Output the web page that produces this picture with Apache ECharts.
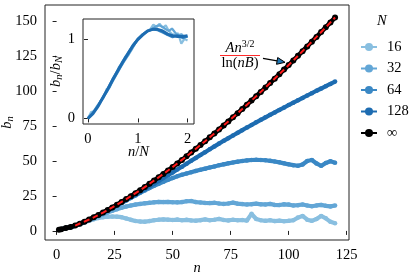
<!DOCTYPE html>
<html><head><meta charset="utf-8">
<script src="https://cdn.jsdelivr.net/npm/echarts@6/dist/echarts.min.js"></script>
<style>html,body{margin:0;padding:0;background:#fff}#wrap{position:relative;width:415px;height:277px}#c{position:absolute;left:0;top:0;width:415px;height:277px}#ins{position:absolute;left:0;top:0;width:415px;height:277px}</style>
</head><body><div id="wrap"><div id="c"></div><div id="ins"></div></div>
<script>
// ---- data ----
const nVals = [1,2,4,6,8,10,12,14,16,18,20,22,24,26,28,30,32,34,36,38,40,42,44,46,48,50,52,54,56,58,60,62,64,66,68,70,72,74,76,78,80,82,84,86,88,90,92,94,96,98,100,102,104,106,108,110,112,114,116,118,120];
const bInf = [0.9,1.2,2.0,2.8,3.83,5.16,6.58,8.10,9.70,11.37,13.11,14.91,16.78,18.71,20.69,22.73,24.82,26.95,29.14,31.37,33.65,35.97,38.34,40.75,43.19,45.67,48.20,50.76,53.36,55.99,58.66,61.36,64.10,66.87,69.67,72.51,75.38,78.27,81.20,84.16,87.14,90.17,93.21,96.29,99.39,102.51,105.68,108.86,112.07,115.32,118.57,121.87,125.17,128.51,131.87,135.27,138.68,142.11,145.58,149.06,152.57];
const b16 = [0.9,1.2,2.0,2.7,3.6,4.8,6.0,7.2,8.3,9.2,9.8,10.1,10.3,10.2,9.8,8.9,7.9,7.1,6.7,6.6,7.0,7.6,8.0,8.2,8.0,7.8,8.1,7.6,7.9,7.5,7.3,7.7,8.2,7.6,8.0,8.6,7.8,7.5,8.0,7.6,7.8,7.4,12.2,8.5,7.6,7.2,7.6,7.0,7.3,6.9,7.2,7.6,9.5,10.7,8.0,7.2,8.5,10.7,9.0,6.5,5.5];
const b32 = [0.9,1.2,2.0,2.8,3.7,5.0,6.3,7.7,9.1,10.5,11.9,13.2,14.4,15.5,16.5,17.4,18.2,18.8,19.3,19.7,20.1,20.4,20.7,20.6,20.7,20.5,20.4,20.6,21.2,21.4,20.6,20.3,20.0,19.9,20.1,19.6,19.3,19.6,20.2,19.5,19.2,18.9,19.1,19.5,19.0,18.9,19.3,18.6,18.5,19.0,18.8,18.2,18.4,18.9,18.2,17.6,18.2,18.6,17.9,17.5,18.2];
const b64 = [0.9,1.2,2.0,2.8,3.8,5.1,6.5,8.0,9.5,11.1,12.7,14.4,16.2,18.0,19.9,21.8,23.6,25.4,27.2,28.9,30.6,32.2,33.7,35.1,36.5,37.8,39.0,40.1,41.1,42.0,42.9,43.7,44.5,45.3,46.1,46.9,47.6,48.3,48.9,49.5,50.0,50.4,50.7,50.8,50.7,50.5,50.1,49.6,49.0,48.3,47.6,47.0,46.6,47.5,50.0,50.7,48.2,46.5,48.5,49.8,48.8];
const b128 = [0.9,1.2,2.0,2.8,3.8,5.15,6.55,8.05,9.6,11.25,12.95,14.7,16.5,18.4,20.3,22.0,24.0,25.9,27.8,29.8,31.8,33.8,35.8,37.8,39.8,41.8,43.9,45.9,48.0,50.1,52.2,54.3,56.3,58.4,60.4,62.4,64.4,66.3,68.2,70.1,72.0,73.9,75.7,77.6,79.4,81.2,83.0,84.7,86.5,88.2,90.0,91.7,93.4,95.1,96.8,98.5,100.2,101.8,103.5,105.1,106.8];
const fitN = [8,16,24,32,40,48,56,64,72,80,88,96,104,112,120];
const fitB = [3.83,9.70,16.78,24.82,33.65,43.19,53.36,64.10,75.38,87.14,99.39,112.07,125.17,138.68,152.57];
const insetXFine = [0,0.0625,0.125,0.1875,0.25,0.3125,0.375,0.4375,0.5,0.5625,0.625,0.6875,0.75,0.8125,0.875,0.9375,1,1.0625,1.125,1.1875,1.25,1.3125,1.375,1.4375,1.5,1.5625,1.625,1.6875,1.75,1.8125,1.875,1.9375,2];
const insetY16 = [0,0.08,0.09,0.13,0.22,0.26,0.37,0.39,0.50,0.55,0.65,0.68,0.78,0.80,0.89,0.94,1.00,1.03,1.07,1.10,1.12,1.18,1.15,1.19,1.14,1.17,1.10,1.06,1.05,1.07,0.94,1.00,0.98];
const insetY32 = [0,0.05,0.10,0.16,0.21,0.27,0.33,0.40,0.47,0.54,0.61,0.68,0.74,0.80,0.86,0.93,0.99,1.03,1.06,1.09,1.11,1.14,1.16,1.17,1.15,1.12,1.10,1.13,1.08,1.04,1.06,1.02,1.03];
const insetXCoarse = [0,0.1,0.2,0.3,0.4,0.5,0.6,0.7,0.8,0.9,1.0,1.1,1.2,1.3,1.4,1.5,1.6,1.7,1.8,1.9,2.0];
const insetY64 = [0,0.07,0.16,0.27,0.38,0.50,0.61,0.72,0.82,0.92,1.0,1.06,1.10,1.12,1.11,1.08,1.05,1.02,1.05,1.01,1.03];
const insetY128 = [0,0.06,0.15,0.26,0.37,0.49,0.60,0.71,0.81,0.91,0.99,1.05,1.10,1.12,1.12,1.10,1.06,1.04,1.03,1.03,1.04];
const xTicks = [0,25,50,75,100,125];
const yTicks = [0,25,50,75,100,125,150];
const insetXTicks = [0,1,2];
const insetYTicks = [0,1];
const legendNames = ['16','32','64','128','\u221e'];
const colors = ['#89bfe0','#62a6d6','#3a88c5','#1d6cb1','#000000'];

// ---- chart ----
const FF = 'Liberation Serif';
const FS = 14.5;
const rich = {
  i:{fontFamily:FF,fontStyle:'italic',fontSize:FS,color:'#000'},
  r:{fontFamily:FF,fontSize:FS,color:'#000'},
  s:{fontFamily:FF,fontStyle:'italic',fontSize:10.5,color:'#000',padding:[7,0,0,0]}
};
const pair = (xs, ys) => xs.map((x,i)=>[x, ys[i]]);
function vAxis(extra, ticks, gap){
  return Object.assign({
    type:'value',
    axisLine:{show:false},
    splitLine:{show:false},
    axisTick:{show:true, inside:false, length:4, customValues:ticks, lineStyle:{color:'#222', width:1}},
    axisLabel:{fontFamily:FF, fontSize:FS, color:'#000', margin:8, customValues:ticks, hideOverlap:false},
    nameLocation:'middle', nameGap:gap, nameMoveOverlap:false, nameTextStyle:{rich}
  }, extra);
}

const chart = echarts.init(document.getElementById('c'), null, {renderer:'canvas'});
const mainSeries = [b16,b32,b64,b128,bInf].map((arr,k)=>({
  name: legendNames[k], type:'line',
  data: pair(nVals, arr), color: colors[k],
  symbol:'circle', symbolSize: k===4?6:4.5,
  lineStyle:{width: k===4?4.5:4.2, color: colors[k]},
  itemStyle:{color: colors[k]}, z: 2+k
}));
const yAxisMain = vAxis({min:-6.5, max:161.5, name:'{i|b}{s|n}'}, yTicks, 29);
yAxisMain.axisLabel.show = false;  // tick labels are drawn on the overlay, at this axis' own pixel positions
const tip=[285,62.3], base=[277.1,60.9];
chart.setOption({
  animation:false,
  backgroundColor:'#fff',
  grid:{left:45, top:5, width:304, height:235, show:true, borderColor:'#222', borderWidth:1, backgroundColor:'transparent', outerBoundsMode:'none'},
  xAxis: vAxis({min:-5, max:126, name:'{i|n}'}, xTicks, 21),
  yAxis: yAxisMain,
  legend:{
    data: legendNames, orient:'vertical', left:360, top:39, padding:0,
    itemWidth:16, itemHeight:10, itemGap:5.5,
    textStyle:{fontFamily:FF, fontSize:FS, color:'#000', lineHeight:16, padding:[0,0,0,5]}
  },
  series: mainSeries.concat([{
    name:'fit', type:'line', data: pair(fitN, fitB),
    symbol:'none', smooth:0.3, lineStyle:{color:'#ff1a1a', width:2, type:[6,3.5]}, z:20
  }]),
  graphic:[
    {type:'text', left:377, top:14, style:{text:'N', fontFamily:FF, fontStyle:'italic', fontSize:FS, fill:'#000'}},
    {type:'text', x:240, y:48, style:{text:'{a|An}{b|3/2}', rich:{a:{fontFamily:FF,fontStyle:'italic',fontSize:FS,color:'#ff2a2a'}, b:{fontFamily:FF,fontSize:10,color:'#ff2a2a',padding:[0,0,8,0]}}, align:'center', verticalAlign:'middle'}},
    {type:'line', shape:{x1:220, y1:55.5, x2:260, y2:55.5}, style:{stroke:'#ff2a2a', lineWidth:1}},
    {type:'text', x:240, y:63.5, style:{text:'{a|ln(}{b|nB}{a|)}', rich:{a:{fontFamily:FF,fontSize:FS,color:'#ff2a2a'}, b:{fontFamily:FF,fontStyle:'italic',fontSize:FS,color:'#ff2a2a'}}, align:'center', verticalAlign:'middle'}},
    {type:'line', shape:{x1:263, y1:58.3, x2:base[0], y2:base[1]}, style:{stroke:'#000', lineWidth:1.2}},
    {type:'polygon', shape:{points:[tip,[276.5,64.3],[277.7,57.5]]}, style:{fill:'#1f77b4', stroke:'#000', lineWidth:1}, z:30}
  ]
});
const yLabelGraphics = yTicks.map((v,i)=>({
  type:'text', x:37, y: chart.convertToPixel({yAxisIndex:0}, v), z:100,
  style:{text:String(v), fontFamily:FF, fontSize:FS, fill:'#000', align:'right', verticalAlign:'middle'}
}));

// overlay chart: inset axes + main y tick labels
const inset = echarts.init(document.getElementById('ins'), null, {renderer:'canvas'});
const insetSeries = [[insetXFine,insetY16,0],[insetXFine,insetY32,1],[insetXCoarse,insetY64,2],[insetXCoarse,insetY128,3]].map(([xs,ys,k])=>({
  name:'inset'+k, type:'line', data: pair(xs,ys),
  symbol:'none', lineStyle:{width: k===3?3:2.2, color: colors[k]}, z: 10+k
}));
inset.setOption({
  animation:false,
  backgroundColor:'transparent',
  grid:{left:83, top:19, width:111, height:105, show:true, borderColor:'#222', borderWidth:1, backgroundColor:'#fff', outerBoundsMode:'none'},
  xAxis: vAxis({min:-0.1, max:2.13, name:'{i|n}{r|/}{i|N}'}, insetXTicks, 21),
  yAxis: vAxis({min:-0.07, max:1.25, name:'{i|b}{s|n}{r|/}{i|b}{s|N}'}, insetYTicks, 18),
  series: insetSeries,
  graphic: yLabelGraphics
});
</script></body></html>
